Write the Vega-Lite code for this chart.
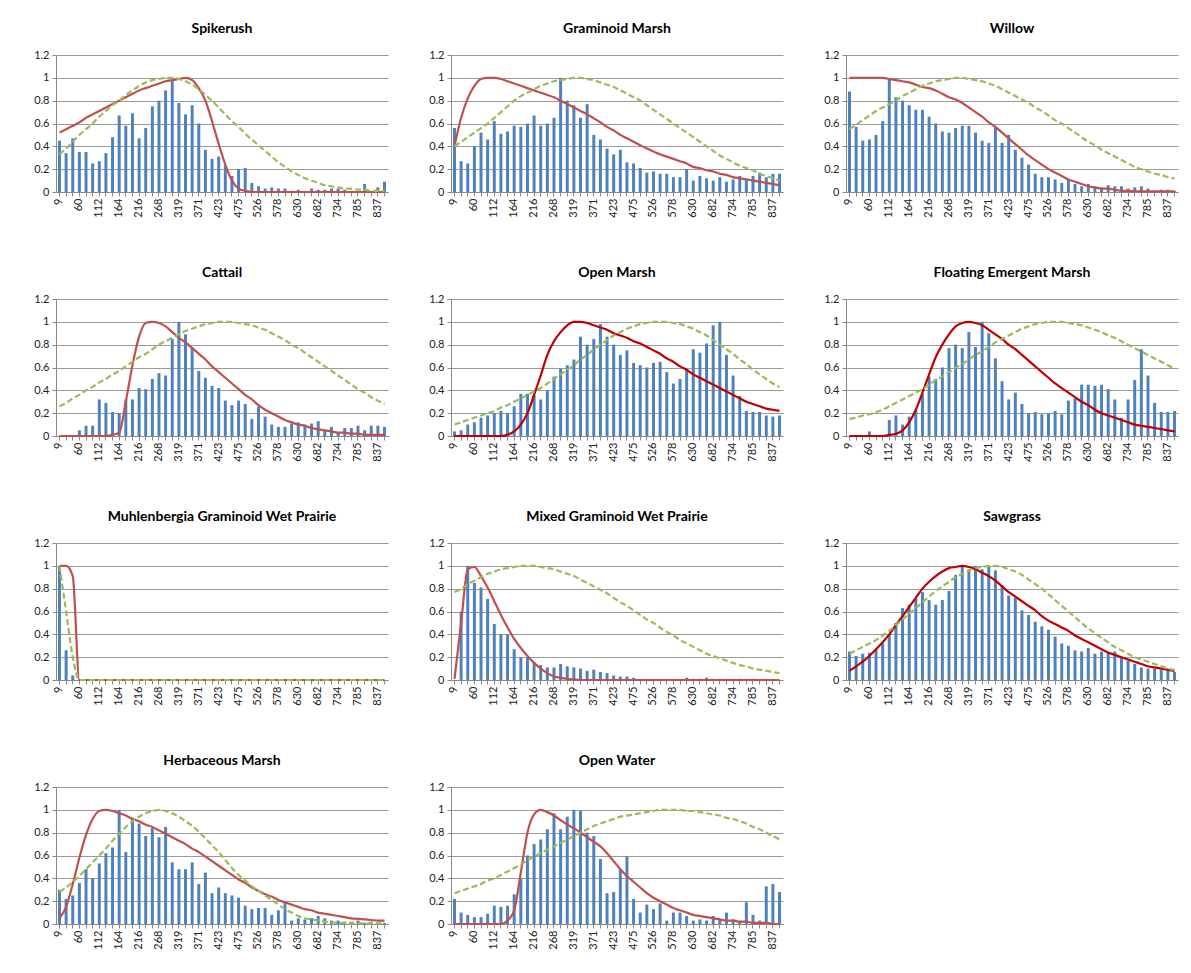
{
"$schema": "https://vega.github.io/schema/vega-lite/v6.json",
"background": "white",
"padding": {"left": 33, "top": 22, "right": 5, "bottom": 5},
"data": {"values": [
{"p":0,"d":9,"b":0.45,"r":0.52,"g":0.33},{"p":0,"d":26,"b":0.34,"r":0.55,"g":0.38},{"p":0,"d":43,"b":0.47,"r":0.58,"g":0.44},{"p":0,"d":60,"b":0.35,"r":0.61,"g":0.50},{"p":0,"d":78,"b":0.35,"r":0.65,"g":0.55},{"p":0,"d":95,"b":0.25,"r":0.68,"g":0.60},{"p":0,"d":112,"b":0.27,"r":0.71,"g":0.66},{"p":0,"d":130,"b":0.34,"r":0.74,"g":0.71},{"p":0,"d":147,"b":0.48,"r":0.77,"g":0.76},{"p":0,"d":164,"b":0.67,"r":0.80,"g":0.80},
{"p":0,"d":181,"b":0.58,"r":0.83,"g":0.85},{"p":0,"d":199,"b":0.69,"r":0.86,"g":0.89},{"p":0,"d":216,"b":0.47,"r":0.89,"g":0.93},{"p":0,"d":233,"b":0.56,"r":0.91,"g":0.96},{"p":0,"d":250,"b":0.75,"r":0.93,"g":0.98},{"p":0,"d":268,"b":0.80,"r":0.95,"g":0.99},{"p":0,"d":285,"b":0.89,"r":0.97,"g":1.0},{"p":0,"d":302,"b":0.98,"r":0.98,"g":1.0},{"p":0,"d":319,"b":0.78,"r":0.99,"g":0.99},{"p":0,"d":337,"b":0.68,"r":1.0,"g":0.97},
{"p":0,"d":354,"b":0.76,"r":0.98,"g":0.94},{"p":0,"d":371,"b":0.60,"r":0.91,"g":0.90},{"p":0,"d":388,"b":0.37,"r":0.80,"g":0.85},{"p":0,"d":406,"b":0.29,"r":0.62,"g":0.80},{"p":0,"d":423,"b":0.31,"r":0.42,"g":0.74},{"p":0,"d":440,"b":0.23,"r":0.24,"g":0.68},{"p":0,"d":457,"b":0.14,"r":0.10,"g":0.62},{"p":0,"d":475,"b":0.20,"r":0.03,"g":0.57},{"p":0,"d":492,"b":0.21,"r":0.01,"g":0.51},{"p":0,"d":509,"b":0.08,"r":0,"g":0.46},
{"p":0,"d":526,"b":0.05,"r":0,"g":0.41},{"p":0,"d":544,"b":0.03,"r":0,"g":0.36},{"p":0,"d":561,"b":0.04,"r":0,"g":0.31},{"p":0,"d":578,"b":0.03,"r":0,"g":0.26},{"p":0,"d":595,"b":0.03,"r":0,"g":0.22},{"p":0,"d":613,"b":0.01,"r":0,"g":0.18},{"p":0,"d":630,"b":0.02,"r":0,"g":0.15},{"p":0,"d":647,"b":0.01,"r":0,"g":0.12},{"p":0,"d":664,"b":0.03,"r":0,"g":0.10},{"p":0,"d":682,"b":0.02,"r":0,"g":0.08},
{"p":0,"d":699,"b":0.02,"r":0,"g":0.06},{"p":0,"d":716,"b":0.03,"r":0,"g":0.05},{"p":0,"d":734,"b":0.03,"r":0,"g":0.04},{"p":0,"d":751,"b":0.02,"r":0,"g":0.03},{"p":0,"d":768,"b":0.01,"r":0,"g":0.03},{"p":0,"d":785,"b":0.01,"r":0,"g":0.02},{"p":0,"d":802,"b":0.07,"r":0,"g":0.02},{"p":0,"d":820,"b":0,"r":0,"g":0.01},{"p":0,"d":837,"b":0.04,"r":0,"g":0.01},{"p":0,"d":854,"b":0.09,"r":0,"g":0.01},

{"p":1,"d":9,"b":0.56,"r":0.40,"g":0.40},{"p":1,"d":26,"b":0.27,"r":0.65,"g":0.44},{"p":1,"d":43,"b":0.25,"r":0.82,"g":0.48},{"p":1,"d":60,"b":0.40,"r":0.93,"g":0.52},{"p":1,"d":78,"b":0.52,"r":0.99,"g":0.56},{"p":1,"d":95,"b":0.46,"r":1.0,"g":0.60},{"p":1,"d":112,"b":0.62,"r":1.0,"g":0.65},{"p":1,"d":130,"b":0.51,"r":0.99,"g":0.70},{"p":1,"d":147,"b":0.53,"r":0.97,"g":0.75},{"p":1,"d":164,"b":0.58,"r":0.95,"g":0.80},
{"p":1,"d":181,"b":0.57,"r":0.93,"g":0.84},{"p":1,"d":199,"b":0.60,"r":0.91,"g":0.87},{"p":1,"d":216,"b":0.67,"r":0.89,"g":0.90},{"p":1,"d":233,"b":0.58,"r":0.87,"g":0.93},{"p":1,"d":250,"b":0.60,"r":0.85,"g":0.95},{"p":1,"d":268,"b":0.65,"r":0.83,"g":0.97},{"p":1,"d":285,"b":1.0,"r":0.80,"g":0.98},{"p":1,"d":302,"b":0.80,"r":0.77,"g":0.99},{"p":1,"d":319,"b":0.76,"r":0.74,"g":1.0},{"p":1,"d":337,"b":0.65,"r":0.71,"g":1.0},
{"p":1,"d":354,"b":0.77,"r":0.68,"g":0.99},{"p":1,"d":371,"b":0.50,"r":0.645,"g":0.98},{"p":1,"d":388,"b":0.46,"r":0.61,"g":0.96},{"p":1,"d":406,"b":0.38,"r":0.57,"g":0.94},{"p":1,"d":423,"b":0.33,"r":0.54,"g":0.92},{"p":1,"d":440,"b":0.37,"r":0.50,"g":0.89},{"p":1,"d":457,"b":0.26,"r":0.47,"g":0.86},{"p":1,"d":475,"b":0.25,"r":0.44,"g":0.83},{"p":1,"d":492,"b":0.21,"r":0.41,"g":0.80},{"p":1,"d":509,"b":0.17,"r":0.38,"g":0.76},
{"p":1,"d":526,"b":0.18,"r":0.355,"g":0.72},{"p":1,"d":544,"b":0.16,"r":0.33,"g":0.68},{"p":1,"d":561,"b":0.16,"r":0.31,"g":0.64},{"p":1,"d":578,"b":0.13,"r":0.29,"g":0.60},{"p":1,"d":595,"b":0.13,"r":0.27,"g":0.56},{"p":1,"d":613,"b":0.20,"r":0.25,"g":0.52},{"p":1,"d":630,"b":0.10,"r":0.22,"g":0.48},{"p":1,"d":647,"b":0.14,"r":0.21,"g":0.44},{"p":1,"d":664,"b":0.12,"r":0.19,"g":0.40},{"p":1,"d":682,"b":0.10,"r":0.18,"g":0.36},
{"p":1,"d":699,"b":0.13,"r":0.16,"g":0.32},{"p":1,"d":716,"b":0.09,"r":0.15,"g":0.29},{"p":1,"d":734,"b":0.11,"r":0.13,"g":0.26},{"p":1,"d":751,"b":0.14,"r":0.12,"g":0.23},{"p":1,"d":768,"b":0.11,"r":0.11,"g":0.21},{"p":1,"d":785,"b":0.14,"r":0.10,"g":0.19},{"p":1,"d":802,"b":0.17,"r":0.09,"g":0.16},{"p":1,"d":820,"b":0.13,"r":0.08,"g":0.14},{"p":1,"d":837,"b":0.16,"r":0.07,"g":0.12},{"p":1,"d":854,"b":0.16,"r":0.06,"g":0.10},

{"p":2,"d":9,"b":0.88,"r":1.0,"g":0.55},{"p":2,"d":26,"b":0.57,"r":1.0,"g":0.59},{"p":2,"d":43,"b":0.45,"r":1.0,"g":0.63},{"p":2,"d":60,"b":0.46,"r":1.0,"g":0.67},{"p":2,"d":78,"b":0.50,"r":1.0,"g":0.71},{"p":2,"d":95,"b":0.62,"r":1.0,"g":0.74},{"p":2,"d":112,"b":0.99,"r":0.99,"g":0.77},{"p":2,"d":130,"b":0.83,"r":0.98,"g":0.80},{"p":2,"d":147,"b":0.80,"r":0.97,"g":0.84},{"p":2,"d":164,"b":0.76,"r":0.96,"g":0.87},
{"p":2,"d":181,"b":0.72,"r":0.94,"g":0.90},{"p":2,"d":199,"b":0.72,"r":0.92,"g":0.93},{"p":2,"d":216,"b":0.66,"r":0.91,"g":0.95},{"p":2,"d":233,"b":0.60,"r":0.89,"g":0.97},{"p":2,"d":250,"b":0.53,"r":0.86,"g":0.98},{"p":2,"d":268,"b":0.52,"r":0.83,"g":0.99},{"p":2,"d":285,"b":0.56,"r":0.81,"g":1.0},{"p":2,"d":302,"b":0.58,"r":0.78,"g":1.0},{"p":2,"d":319,"b":0.58,"r":0.74,"g":0.99},{"p":2,"d":337,"b":0.52,"r":0.70,"g":0.98},
{"p":2,"d":354,"b":0.45,"r":0.66,"g":0.97},{"p":2,"d":371,"b":0.43,"r":0.61,"g":0.95},{"p":2,"d":388,"b":0.57,"r":0.57,"g":0.93},{"p":2,"d":406,"b":0.43,"r":0.52,"g":0.90},{"p":2,"d":423,"b":0.50,"r":0.47,"g":0.87},{"p":2,"d":440,"b":0.37,"r":0.42,"g":0.84},{"p":2,"d":457,"b":0.30,"r":0.37,"g":0.81},{"p":2,"d":475,"b":0.24,"r":0.32,"g":0.78},{"p":2,"d":492,"b":0.16,"r":0.28,"g":0.74},{"p":2,"d":509,"b":0.13,"r":0.24,"g":0.71},
{"p":2,"d":526,"b":0.13,"r":0.20,"g":0.67},{"p":2,"d":544,"b":0.11,"r":0.17,"g":0.63},{"p":2,"d":561,"b":0.08,"r":0.14,"g":0.60},{"p":2,"d":578,"b":0.11,"r":0.11,"g":0.56},{"p":2,"d":595,"b":0.07,"r":0.09,"g":0.52},{"p":2,"d":613,"b":0.05,"r":0.07,"g":0.48},{"p":2,"d":630,"b":0.07,"r":0.05,"g":0.44},{"p":2,"d":647,"b":0.05,"r":0.04,"g":0.41},{"p":2,"d":664,"b":0.04,"r":0.03,"g":0.37},{"p":2,"d":682,"b":0.06,"r":0.03,"g":0.34},
{"p":2,"d":699,"b":0.05,"r":0.02,"g":0.31},{"p":2,"d":716,"b":0.05,"r":0.01,"g":0.28},{"p":2,"d":734,"b":0.03,"r":0.01,"g":0.25},{"p":2,"d":751,"b":0.04,"r":0.005,"g":0.22},{"p":2,"d":768,"b":0.05,"r":0.005,"g":0.20},{"p":2,"d":785,"b":0.03,"r":0.005,"g":0.18},{"p":2,"d":802,"b":0.01,"r":0.005,"g":0.16},{"p":2,"d":820,"b":0.02,"r":0.005,"g":0.15},{"p":2,"d":837,"b":0.02,"r":0.005,"g":0.13},{"p":2,"d":854,"b":0.01,"r":0.005,"g":0.12},

{"p":3,"d":9,"b":0,"r":0,"g":0.26},{"p":3,"d":26,"b":0,"r":0,"g":0.29},{"p":3,"d":43,"b":0,"r":0,"g":0.33},{"p":3,"d":60,"b":0.05,"r":0,"g":0.36},{"p":3,"d":78,"b":0.09,"r":0,"g":0.40},{"p":3,"d":95,"b":0.09,"r":0,"g":0.43},{"p":3,"d":112,"b":0.32,"r":0,"g":0.47},{"p":3,"d":130,"b":0.29,"r":0,"g":0.50},{"p":3,"d":147,"b":0.21,"r":0.01,"g":0.54},{"p":3,"d":164,"b":0.20,"r":0.03,"g":0.57},
{"p":3,"d":181,"b":0.32,"r":0.30,"g":0.61},{"p":3,"d":199,"b":0.32,"r":0.62,"g":0.65},{"p":3,"d":216,"b":0.42,"r":0.87,"g":0.69},{"p":3,"d":233,"b":0.41,"r":0.99,"g":0.72},{"p":3,"d":250,"b":0.50,"r":1.0,"g":0.76},{"p":3,"d":268,"b":0.55,"r":0.99,"g":0.80},{"p":3,"d":285,"b":0.53,"r":0.96,"g":0.83},{"p":3,"d":302,"b":0.85,"r":0.91,"g":0.86},{"p":3,"d":319,"b":1.0,"r":0.86,"g":0.89},{"p":3,"d":337,"b":0.89,"r":0.82,"g":0.92},
{"p":3,"d":354,"b":0.78,"r":0.77,"g":0.94},{"p":3,"d":371,"b":0.57,"r":0.72,"g":0.96},{"p":3,"d":388,"b":0.51,"r":0.67,"g":0.98},{"p":3,"d":406,"b":0.44,"r":0.61,"g":0.99},{"p":3,"d":423,"b":0.42,"r":0.56,"g":1.0},{"p":3,"d":440,"b":0.31,"r":0.51,"g":1.0},{"p":3,"d":457,"b":0.27,"r":0.46,"g":1.0},{"p":3,"d":475,"b":0.31,"r":0.41,"g":0.99},{"p":3,"d":492,"b":0.28,"r":0.36,"g":0.98},{"p":3,"d":509,"b":0.15,"r":0.32,"g":0.97},
{"p":3,"d":526,"b":0.26,"r":0.27,"g":0.95},{"p":3,"d":544,"b":0.17,"r":0.23,"g":0.93},{"p":3,"d":561,"b":0.10,"r":0.20,"g":0.90},{"p":3,"d":578,"b":0.08,"r":0.17,"g":0.87},{"p":3,"d":595,"b":0.08,"r":0.14,"g":0.84},{"p":3,"d":613,"b":0.11,"r":0.12,"g":0.80},{"p":3,"d":630,"b":0.12,"r":0.10,"g":0.77},{"p":3,"d":647,"b":0.10,"r":0.09,"g":0.73},{"p":3,"d":664,"b":0.11,"r":0.07,"g":0.69},{"p":3,"d":682,"b":0.13,"r":0.06,"g":0.65},
{"p":3,"d":699,"b":0.05,"r":0.05,"g":0.61},{"p":3,"d":716,"b":0.08,"r":0.04,"g":0.57},{"p":3,"d":734,"b":0.03,"r":0.03,"g":0.53},{"p":3,"d":751,"b":0.07,"r":0.03,"g":0.49},{"p":3,"d":768,"b":0.07,"r":0.02,"g":0.45},{"p":3,"d":785,"b":0.09,"r":0.02,"g":0.41},{"p":3,"d":802,"b":0.05,"r":0.01,"g":0.38},{"p":3,"d":820,"b":0.09,"r":0.01,"g":0.34},{"p":3,"d":837,"b":0.09,"r":0.01,"g":0.31},{"p":3,"d":854,"b":0.08,"r":0.01,"g":0.28},

{"p":4,"d":9,"b":0.04,"r":0,"g":0.10},{"p":4,"d":26,"b":0.05,"r":0,"g":0.12},{"p":4,"d":43,"b":0.10,"r":0,"g":0.14},{"p":4,"d":60,"b":0.12,"r":0,"g":0.16},{"p":4,"d":78,"b":0.16,"r":0,"g":0.18},{"p":4,"d":95,"b":0.18,"r":0,"g":0.20},{"p":4,"d":112,"b":0.20,"r":0,"g":0.22},{"p":4,"d":130,"b":0.22,"r":0,"g":0.25},{"p":4,"d":147,"b":0.20,"r":0.01,"g":0.27},{"p":4,"d":164,"b":0.26,"r":0.04,"g":0.30},
{"p":4,"d":181,"b":0.37,"r":0.10,"g":0.33},{"p":4,"d":199,"b":0.37,"r":0.20,"g":0.36},{"p":4,"d":216,"b":0.36,"r":0.36,"g":0.39},{"p":4,"d":233,"b":0.32,"r":0.53,"g":0.42},{"p":4,"d":250,"b":0.40,"r":0.71,"g":0.46},{"p":4,"d":268,"b":0.52,"r":0.83,"g":0.50},{"p":4,"d":285,"b":0.59,"r":0.91,"g":0.54},{"p":4,"d":302,"b":0.62,"r":0.97,"g":0.58},{"p":4,"d":319,"b":0.67,"r":1.0,"g":0.62},{"p":4,"d":337,"b":0.87,"r":1.0,"g":0.67},
{"p":4,"d":354,"b":0.80,"r":0.99,"g":0.71},{"p":4,"d":371,"b":0.85,"r":0.97,"g":0.76},{"p":4,"d":388,"b":0.98,"r":0.95,"g":0.80},{"p":4,"d":406,"b":0.87,"r":0.93,"g":0.84},{"p":4,"d":423,"b":0.80,"r":0.90,"g":0.88},{"p":4,"d":440,"b":0.71,"r":0.88,"g":0.91},{"p":4,"d":457,"b":0.75,"r":0.86,"g":0.94},{"p":4,"d":475,"b":0.64,"r":0.83,"g":0.96},{"p":4,"d":492,"b":0.62,"r":0.81,"g":0.98},{"p":4,"d":509,"b":0.60,"r":0.78,"g":0.99},
{"p":4,"d":526,"b":0.64,"r":0.75,"g":1.0},{"p":4,"d":544,"b":0.65,"r":0.72,"g":1.0},{"p":4,"d":561,"b":0.56,"r":0.68,"g":1.0},{"p":4,"d":578,"b":0.46,"r":0.65,"g":0.99},{"p":4,"d":595,"b":0.50,"r":0.61,"g":0.98},{"p":4,"d":613,"b":0.58,"r":0.58,"g":0.96},{"p":4,"d":630,"b":0.76,"r":0.54,"g":0.94},{"p":4,"d":647,"b":0.73,"r":0.51,"g":0.91},{"p":4,"d":664,"b":0.81,"r":0.48,"g":0.88},{"p":4,"d":682,"b":0.97,"r":0.45,"g":0.84},
{"p":4,"d":699,"b":1.0,"r":0.42,"g":0.80},{"p":4,"d":716,"b":0.71,"r":0.39,"g":0.76},{"p":4,"d":734,"b":0.53,"r":0.36,"g":0.72},{"p":4,"d":751,"b":0.35,"r":0.33,"g":0.67},{"p":4,"d":768,"b":0.22,"r":0.30,"g":0.63},{"p":4,"d":785,"b":0.21,"r":0.28,"g":0.58},{"p":4,"d":802,"b":0.21,"r":0.26,"g":0.54},{"p":4,"d":820,"b":0.18,"r":0.24,"g":0.50},{"p":4,"d":837,"b":0.17,"r":0.23,"g":0.46},{"p":4,"d":854,"b":0.18,"r":0.22,"g":0.43},

{"p":5,"d":9,"b":0,"r":0,"g":0.15},{"p":5,"d":26,"b":0,"r":0,"g":0.16},{"p":5,"d":43,"b":0,"r":0,"g":0.18},{"p":5,"d":60,"b":0.04,"r":0,"g":0.19},{"p":5,"d":78,"b":0.01,"r":0,"g":0.21},{"p":5,"d":95,"b":0,"r":0,"g":0.23},{"p":5,"d":112,"b":0.14,"r":0.01,"g":0.26},{"p":5,"d":130,"b":0.18,"r":0.02,"g":0.29},{"p":5,"d":147,"b":0.10,"r":0.05,"g":0.32},{"p":5,"d":164,"b":0.17,"r":0.12,"g":0.35},
{"p":5,"d":181,"b":0.23,"r":0.23,"g":0.38},{"p":5,"d":199,"b":0.37,"r":0.38,"g":0.41},{"p":5,"d":216,"b":0.52,"r":0.54,"g":0.45},{"p":5,"d":233,"b":0.50,"r":0.69,"g":0.49},{"p":5,"d":250,"b":0.60,"r":0.80,"g":0.52},{"p":5,"d":268,"b":0.77,"r":0.89,"g":0.56},{"p":5,"d":285,"b":0.80,"r":0.96,"g":0.60},{"p":5,"d":302,"b":0.77,"r":0.99,"g":0.63},{"p":5,"d":319,"b":0.91,"r":1.0,"g":0.67},{"p":5,"d":337,"b":0.78,"r":0.99,"g":0.71},
{"p":5,"d":354,"b":1.0,"r":0.97,"g":0.74},{"p":5,"d":371,"b":0.90,"r":0.93,"g":0.78},{"p":5,"d":388,"b":0.68,"r":0.89,"g":0.82},{"p":5,"d":406,"b":0.48,"r":0.85,"g":0.85},{"p":5,"d":423,"b":0.32,"r":0.80,"g":0.88},{"p":5,"d":440,"b":0.38,"r":0.76,"g":0.91},{"p":5,"d":457,"b":0.28,"r":0.71,"g":0.94},{"p":5,"d":475,"b":0.20,"r":0.66,"g":0.96},{"p":5,"d":492,"b":0.21,"r":0.61,"g":0.98},{"p":5,"d":509,"b":0.19,"r":0.56,"g":0.99},
{"p":5,"d":526,"b":0.20,"r":0.51,"g":1.0},{"p":5,"d":544,"b":0.22,"r":0.46,"g":1.0},{"p":5,"d":561,"b":0.19,"r":0.42,"g":1.0},{"p":5,"d":578,"b":0.31,"r":0.38,"g":0.99},{"p":5,"d":595,"b":0.33,"r":0.34,"g":0.98},{"p":5,"d":613,"b":0.45,"r":0.30,"g":0.97},{"p":5,"d":630,"b":0.45,"r":0.27,"g":0.95},{"p":5,"d":647,"b":0.44,"r":0.23,"g":0.93},{"p":5,"d":664,"b":0.45,"r":0.20,"g":0.91},{"p":5,"d":682,"b":0.41,"r":0.18,"g":0.88},
{"p":5,"d":699,"b":0.32,"r":0.16,"g":0.86},{"p":5,"d":716,"b":0.16,"r":0.14,"g":0.83},{"p":5,"d":734,"b":0.32,"r":0.12,"g":0.80},{"p":5,"d":751,"b":0.49,"r":0.10,"g":0.77},{"p":5,"d":768,"b":0.76,"r":0.09,"g":0.74},{"p":5,"d":785,"b":0.53,"r":0.08,"g":0.71},{"p":5,"d":802,"b":0.29,"r":0.07,"g":0.68},{"p":5,"d":820,"b":0.21,"r":0.06,"g":0.65},{"p":5,"d":837,"b":0.21,"r":0.05,"g":0.62},{"p":5,"d":854,"b":0.22,"r":0.04,"g":0.59},

{"p":6,"d":9,"b":1.0,"r":1.0,"g":1.0},{"p":6,"d":26,"b":0.26,"r":1.0,"g":0.6},{"p":6,"d":43,"b":0.04,"r":0.91,"g":0.2},{"p":6,"d":60,"b":0,"r":0,"g":0},{"p":6,"d":78,"b":0,"r":0,"g":0},{"p":6,"d":95,"b":0,"r":0,"g":0},{"p":6,"d":112,"b":0,"r":0,"g":0},{"p":6,"d":130,"b":0,"r":0,"g":0},{"p":6,"d":147,"b":0,"r":0,"g":0},{"p":6,"d":164,"b":0,"r":0,"g":0},
{"p":6,"d":181,"b":0,"r":0,"g":0},{"p":6,"d":199,"b":0,"r":0,"g":0},{"p":6,"d":216,"b":0,"r":0,"g":0},{"p":6,"d":233,"b":0,"r":0,"g":0},{"p":6,"d":250,"b":0,"r":0,"g":0},{"p":6,"d":268,"b":0,"r":0,"g":0},{"p":6,"d":285,"b":0,"r":0,"g":0},{"p":6,"d":302,"b":0,"r":0,"g":0},{"p":6,"d":319,"b":0,"r":0,"g":0},{"p":6,"d":337,"b":0,"r":0,"g":0},
{"p":6,"d":354,"b":0,"r":0,"g":0},{"p":6,"d":371,"b":0,"r":0,"g":0},{"p":6,"d":388,"b":0,"r":0,"g":0},{"p":6,"d":406,"b":0,"r":0,"g":0},{"p":6,"d":423,"b":0,"r":0,"g":0},{"p":6,"d":440,"b":0,"r":0,"g":0},{"p":6,"d":457,"b":0,"r":0,"g":0},{"p":6,"d":475,"b":0,"r":0,"g":0},{"p":6,"d":492,"b":0,"r":0,"g":0},{"p":6,"d":509,"b":0,"r":0,"g":0},
{"p":6,"d":526,"b":0,"r":0,"g":0},{"p":6,"d":544,"b":0,"r":0,"g":0},{"p":6,"d":561,"b":0,"r":0,"g":0},{"p":6,"d":578,"b":0,"r":0,"g":0},{"p":6,"d":595,"b":0,"r":0,"g":0},{"p":6,"d":613,"b":0,"r":0,"g":0},{"p":6,"d":630,"b":0,"r":0,"g":0},{"p":6,"d":647,"b":0,"r":0,"g":0},{"p":6,"d":664,"b":0,"r":0,"g":0},{"p":6,"d":682,"b":0,"r":0,"g":0},
{"p":6,"d":699,"b":0,"r":0,"g":0},{"p":6,"d":716,"b":0,"r":0,"g":0},{"p":6,"d":734,"b":0,"r":0,"g":0},{"p":6,"d":751,"b":0,"r":0,"g":0},{"p":6,"d":768,"b":0,"r":0,"g":0},{"p":6,"d":785,"b":0,"r":0,"g":0},{"p":6,"d":802,"b":0,"r":0,"g":0},{"p":6,"d":820,"b":0,"r":0,"g":0},{"p":6,"d":837,"b":0,"r":0,"g":0},{"p":6,"d":854,"b":0,"r":0,"g":0},

{"p":7,"d":9,"b":0,"r":0.01,"g":0.77},{"p":7,"d":26,"b":0.60,"r":0.50,"g":0.80},{"p":7,"d":43,"b":1.0,"r":0.97,"g":0.84},{"p":7,"d":60,"b":0.85,"r":0.99,"g":0.87},{"p":7,"d":78,"b":0.81,"r":0.91,"g":0.90},{"p":7,"d":95,"b":0.71,"r":0.81,"g":0.93},{"p":7,"d":112,"b":0.49,"r":0.69,"g":0.95},{"p":7,"d":130,"b":0.40,"r":0.57,"g":0.97},{"p":7,"d":147,"b":0.40,"r":0.46,"g":0.98},{"p":7,"d":164,"b":0.27,"r":0.36,"g":0.99},
{"p":7,"d":181,"b":0.20,"r":0.28,"g":1.0},{"p":7,"d":199,"b":0.20,"r":0.21,"g":1.0},{"p":7,"d":216,"b":0.15,"r":0.15,"g":1.0},{"p":7,"d":233,"b":0.13,"r":0.10,"g":0.99},{"p":7,"d":250,"b":0.11,"r":0.06,"g":0.98},{"p":7,"d":268,"b":0.11,"r":0.03,"g":0.97},{"p":7,"d":285,"b":0.14,"r":0.02,"g":0.95},{"p":7,"d":302,"b":0.12,"r":0.01,"g":0.93},{"p":7,"d":319,"b":0.11,"r":0.005,"g":0.91},{"p":7,"d":337,"b":0.10,"r":0,"g":0.88},
{"p":7,"d":354,"b":0.08,"r":0,"g":0.85},{"p":7,"d":371,"b":0.09,"r":0,"g":0.82},{"p":7,"d":388,"b":0.07,"r":0,"g":0.79},{"p":7,"d":406,"b":0.06,"r":0,"g":0.76},{"p":7,"d":423,"b":0.04,"r":0,"g":0.72},{"p":7,"d":440,"b":0.03,"r":0,"g":0.68},{"p":7,"d":457,"b":0.03,"r":0,"g":0.65},{"p":7,"d":475,"b":0.02,"r":0,"g":0.61},{"p":7,"d":492,"b":0.01,"r":0,"g":0.57},{"p":7,"d":509,"b":0,"r":0,"g":0.53},
{"p":7,"d":526,"b":0,"r":0,"g":0.50},{"p":7,"d":544,"b":0,"r":0,"g":0.46},{"p":7,"d":561,"b":0,"r":0,"g":0.42},{"p":7,"d":578,"b":0,"r":0,"g":0.39},{"p":7,"d":595,"b":0.01,"r":0,"g":0.35},{"p":7,"d":613,"b":0.02,"r":0,"g":0.32},{"p":7,"d":630,"b":0.01,"r":0,"g":0.29},{"p":7,"d":647,"b":0.01,"r":0,"g":0.26},{"p":7,"d":664,"b":0.02,"r":0,"g":0.23},{"p":7,"d":682,"b":0.01,"r":0,"g":0.21},
{"p":7,"d":699,"b":0.01,"r":0,"g":0.19},{"p":7,"d":716,"b":0.01,"r":0,"g":0.17},{"p":7,"d":734,"b":0.01,"r":0,"g":0.15},{"p":7,"d":751,"b":0.01,"r":0,"g":0.13},{"p":7,"d":768,"b":0.01,"r":0,"g":0.12},{"p":7,"d":785,"b":0.01,"r":0,"g":0.10},{"p":7,"d":802,"b":0,"r":0,"g":0.09},{"p":7,"d":820,"b":0,"r":0,"g":0.08},{"p":7,"d":837,"b":0,"r":0,"g":0.07},{"p":7,"d":854,"b":0,"r":0,"g":0.06},

{"p":8,"d":9,"b":0.25,"r":0.08,"g":0.23},{"p":8,"d":26,"b":0.21,"r":0.12,"g":0.26},{"p":8,"d":43,"b":0.23,"r":0.16,"g":0.29},{"p":8,"d":60,"b":0.24,"r":0.21,"g":0.32},{"p":8,"d":78,"b":0.27,"r":0.27,"g":0.35},{"p":8,"d":95,"b":0.32,"r":0.33,"g":0.39},{"p":8,"d":112,"b":0.40,"r":0.40,"g":0.43},{"p":8,"d":130,"b":0.50,"r":0.48,"g":0.48},{"p":8,"d":147,"b":0.63,"r":0.56,"g":0.53},{"p":8,"d":164,"b":0.66,"r":0.64,"g":0.58},
{"p":8,"d":181,"b":0.71,"r":0.72,"g":0.63},{"p":8,"d":199,"b":0.77,"r":0.80,"g":0.68},{"p":8,"d":216,"b":0.70,"r":0.86,"g":0.73},{"p":8,"d":233,"b":0.66,"r":0.91,"g":0.78},{"p":8,"d":250,"b":0.70,"r":0.95,"g":0.82},{"p":8,"d":268,"b":0.78,"r":0.98,"g":0.86},{"p":8,"d":285,"b":0.92,"r":0.99,"g":0.90},{"p":8,"d":302,"b":0.99,"r":1.0,"g":0.93},{"p":8,"d":319,"b":0.97,"r":0.99,"g":0.96},{"p":8,"d":337,"b":1.0,"r":0.97,"g":0.98},
{"p":8,"d":354,"b":0.97,"r":0.94,"g":0.99},{"p":8,"d":371,"b":0.99,"r":0.91,"g":1.0},{"p":8,"d":388,"b":0.96,"r":0.87,"g":1.0},{"p":8,"d":406,"b":0.83,"r":0.82,"g":0.99},{"p":8,"d":423,"b":0.74,"r":0.77,"g":0.97},{"p":8,"d":440,"b":0.72,"r":0.73,"g":0.95},{"p":8,"d":457,"b":0.61,"r":0.69,"g":0.92},{"p":8,"d":475,"b":0.57,"r":0.65,"g":0.88},{"p":8,"d":492,"b":0.51,"r":0.61,"g":0.84},{"p":8,"d":509,"b":0.47,"r":0.56,"g":0.80},
{"p":8,"d":526,"b":0.44,"r":0.52,"g":0.75},{"p":8,"d":544,"b":0.38,"r":0.49,"g":0.70},{"p":8,"d":561,"b":0.32,"r":0.46,"g":0.65},{"p":8,"d":578,"b":0.30,"r":0.43,"g":0.60},{"p":8,"d":595,"b":0.26,"r":0.39,"g":0.55},{"p":8,"d":613,"b":0.25,"r":0.36,"g":0.50},{"p":8,"d":630,"b":0.28,"r":0.33,"g":0.45},{"p":8,"d":647,"b":0.23,"r":0.30,"g":0.41},{"p":8,"d":664,"b":0.25,"r":0.27,"g":0.37},{"p":8,"d":682,"b":0.24,"r":0.24,"g":0.33},
{"p":8,"d":699,"b":0.25,"r":0.22,"g":0.29},{"p":8,"d":716,"b":0.20,"r":0.20,"g":0.26},{"p":8,"d":734,"b":0.17,"r":0.18,"g":0.23},{"p":8,"d":751,"b":0.14,"r":0.16,"g":0.20},{"p":8,"d":768,"b":0.11,"r":0.14,"g":0.18},{"p":8,"d":785,"b":0.10,"r":0.12,"g":0.16},{"p":8,"d":802,"b":0.10,"r":0.11,"g":0.14},{"p":8,"d":820,"b":0.09,"r":0.10,"g":0.12},{"p":8,"d":837,"b":0.09,"r":0.09,"g":0.10},{"p":8,"d":854,"b":0.07,"r":0.08,"g":0.09},

{"p":9,"d":9,"b":0.30,"r":0.05,"g":0.28},{"p":9,"d":26,"b":0.22,"r":0.15,"g":0.32},{"p":9,"d":43,"b":0.25,"r":0.35,"g":0.37},{"p":9,"d":60,"b":0.36,"r":0.58,"g":0.42},{"p":9,"d":78,"b":0.48,"r":0.78,"g":0.48},{"p":9,"d":95,"b":0.40,"r":0.92,"g":0.54},{"p":9,"d":112,"b":0.53,"r":0.99,"g":0.60},{"p":9,"d":130,"b":0.62,"r":1.0,"g":0.66},{"p":9,"d":147,"b":0.67,"r":0.99,"g":0.73},{"p":9,"d":164,"b":1.0,"r":0.97,"g":0.79},
{"p":9,"d":181,"b":0.63,"r":0.95,"g":0.85},{"p":9,"d":199,"b":0.93,"r":0.92,"g":0.90},{"p":9,"d":216,"b":0.88,"r":0.90,"g":0.94},{"p":9,"d":233,"b":0.77,"r":0.87,"g":0.97},{"p":9,"d":250,"b":0.84,"r":0.85,"g":0.99},{"p":9,"d":268,"b":0.76,"r":0.82,"g":1.0},{"p":9,"d":285,"b":0.85,"r":0.79,"g":0.99},{"p":9,"d":302,"b":0.54,"r":0.76,"g":0.97},{"p":9,"d":319,"b":0.48,"r":0.73,"g":0.94},{"p":9,"d":337,"b":0.48,"r":0.70,"g":0.90},
{"p":9,"d":354,"b":0.54,"r":0.66,"g":0.86},{"p":9,"d":371,"b":0.35,"r":0.63,"g":0.81},{"p":9,"d":388,"b":0.45,"r":0.59,"g":0.75},{"p":9,"d":406,"b":0.27,"r":0.55,"g":0.69},{"p":9,"d":423,"b":0.32,"r":0.51,"g":0.63},{"p":9,"d":440,"b":0.27,"r":0.47,"g":0.56},{"p":9,"d":457,"b":0.25,"r":0.43,"g":0.49},{"p":9,"d":475,"b":0.23,"r":0.39,"g":0.43},{"p":9,"d":492,"b":0.16,"r":0.36,"g":0.38},{"p":9,"d":509,"b":0.13,"r":0.32,"g":0.33},
{"p":9,"d":526,"b":0.14,"r":0.29,"g":0.29},{"p":9,"d":544,"b":0.14,"r":0.26,"g":0.25},{"p":9,"d":561,"b":0.08,"r":0.24,"g":0.21},{"p":9,"d":578,"b":0.12,"r":0.21,"g":0.17},{"p":9,"d":595,"b":0.20,"r":0.19,"g":0.13},{"p":9,"d":613,"b":0.03,"r":0.17,"g":0.10},{"p":9,"d":630,"b":0.05,"r":0.15,"g":0.07},{"p":9,"d":647,"b":0.04,"r":0.13,"g":0.05},{"p":9,"d":664,"b":0.05,"r":0.12,"g":0.04},{"p":9,"d":682,"b":0.07,"r":0.10,"g":0.03},
{"p":9,"d":699,"b":0.05,"r":0.09,"g":0.02},{"p":9,"d":716,"b":0.03,"r":0.08,"g":0.015},{"p":9,"d":734,"b":0.03,"r":0.07,"g":0.01},{"p":9,"d":751,"b":0.02,"r":0.06,"g":0.01},{"p":9,"d":768,"b":0.02,"r":0.05,"g":0.005},{"p":9,"d":785,"b":0.03,"r":0.045,"g":0.005},{"p":9,"d":802,"b":0.01,"r":0.04,"g":0.005},{"p":9,"d":820,"b":0.02,"r":0.035,"g":0.005},{"p":9,"d":837,"b":0.01,"r":0.03,"g":0.005},{"p":9,"d":854,"b":0.01,"r":0.03,"g":0.005},

{"p":10,"d":9,"b":0.22,"r":0,"g":0.27},{"p":10,"d":26,"b":0.10,"r":0,"g":0.29},{"p":10,"d":43,"b":0.08,"r":0,"g":0.31},{"p":10,"d":60,"b":0.06,"r":0,"g":0.33},{"p":10,"d":78,"b":0.06,"r":0,"g":0.35},{"p":10,"d":95,"b":0.09,"r":0,"g":0.38},{"p":10,"d":112,"b":0.16,"r":0,"g":0.40},{"p":10,"d":130,"b":0.15,"r":0,"g":0.43},{"p":10,"d":147,"b":0.16,"r":0.03,"g":0.46},{"p":10,"d":164,"b":0.26,"r":0.12,"g":0.49},
{"p":10,"d":181,"b":0.40,"r":0.45,"g":0.52},{"p":10,"d":199,"b":0.60,"r":0.80,"g":0.56},{"p":10,"d":216,"b":0.70,"r":0.96,"g":0.59},{"p":10,"d":233,"b":0.74,"r":1.0,"g":0.62},{"p":10,"d":250,"b":0.83,"r":0.98,"g":0.65},{"p":10,"d":268,"b":0.97,"r":0.95,"g":0.68},{"p":10,"d":285,"b":0.83,"r":0.91,"g":0.71},{"p":10,"d":302,"b":0.94,"r":0.87,"g":0.74},{"p":10,"d":319,"b":1.0,"r":0.84,"g":0.77},{"p":10,"d":337,"b":0.99,"r":0.80,"g":0.80},
{"p":10,"d":354,"b":0.80,"r":0.76,"g":0.83},{"p":10,"d":371,"b":0.77,"r":0.72,"g":0.86},{"p":10,"d":388,"b":0.57,"r":0.68,"g":0.88},{"p":10,"d":406,"b":0.27,"r":0.62,"g":0.90},{"p":10,"d":423,"b":0.28,"r":0.55,"g":0.92},{"p":10,"d":440,"b":0.48,"r":0.48,"g":0.94},{"p":10,"d":457,"b":0.59,"r":0.42,"g":0.95},{"p":10,"d":475,"b":0.22,"r":0.37,"g":0.96},{"p":10,"d":492,"b":0.10,"r":0.32,"g":0.97},{"p":10,"d":509,"b":0.17,"r":0.27,"g":0.98},
{"p":10,"d":526,"b":0.13,"r":0.23,"g":0.99},{"p":10,"d":544,"b":0.18,"r":0.20,"g":1.0},{"p":10,"d":561,"b":0.03,"r":0.17,"g":1.0},{"p":10,"d":578,"b":0.10,"r":0.14,"g":1.0},{"p":10,"d":595,"b":0.10,"r":0.12,"g":1.0},{"p":10,"d":613,"b":0.07,"r":0.10,"g":0.99},{"p":10,"d":630,"b":0.03,"r":0.08,"g":0.99},{"p":10,"d":647,"b":0.04,"r":0.07,"g":0.98},{"p":10,"d":664,"b":0.03,"r":0.06,"g":0.97},{"p":10,"d":682,"b":0.07,"r":0.05,"g":0.96},
{"p":10,"d":699,"b":0.04,"r":0.04,"g":0.95},{"p":10,"d":716,"b":0.10,"r":0.03,"g":0.93},{"p":10,"d":734,"b":0.04,"r":0.03,"g":0.92},{"p":10,"d":751,"b":0.02,"r":0.02,"g":0.90},{"p":10,"d":768,"b":0.19,"r":0.02,"g":0.88},{"p":10,"d":785,"b":0.08,"r":0.01,"g":0.85},{"p":10,"d":802,"b":0.03,"r":0.01,"g":0.83},{"p":10,"d":820,"b":0.33,"r":0.01,"g":0.80},{"p":10,"d":837,"b":0.35,"r":0,"g":0.77},{"p":10,"d":854,"b":0.28,"r":0,"g":0.74}
]},
"facet": {
  "field": "p", "type": "ordinal",
  "header": {
    "title": null,
    "labelExpr": "['Spikerush','Graminoid Marsh','Willow','Cattail','Open Marsh','Floating Emergent Marsh','Muhlenbergia Graminoid Wet Prairie','Mixed Graminoid Wet Prairie','Sawgrass','Herbaceous Marsh','Open Water'][datum.value]",
    "labelFont": "Lato", "labelFontSize": 14, "labelFontWeight": "bold", "labelColor": "#000000", "labelPadding": 13
  }
},
"columns": 3,
"spacing": {"row": 48, "column": 38},
"resolve": {"axis": {"x": "independent", "y": "independent"}},
"spec": {
  "width": 332,
  "height": 137,
  "encoding": {
    "x": {"field": "d", "type": "ordinal", "title": null,
      "scale": {"paddingInner": 0.55, "paddingOuter": 0.3},
      "axis": {"labelAngle": -90, "labelOverlap": false, "labelExpr": "indexof([9,60,112,164,216,268,319,371,423,475,526,578,630,682,734,785,837], datum.value) >= 0 ? datum.label : ''", "tickSize": 4, "labelPadding": 2}}
  },
  "layer": [
    {"mark": {"type": "bar", "color": "#4F81BD"},
     "encoding": {"y": {"field": "b", "type": "quantitative", "title": null, "scale": {"domain": [0, 1.2]},
       "axis": {"values": [0, 0.2, 0.4, 0.6, 0.8, 1, 1.2], "tickCount": 7, "format": "~g", "labelOverlap": false, "grid": true, "tickSize": 4, "labelPadding": 3}}}},
    {"mark": {"type": "line", "strokeWidth": 2.2, "interpolate": "monotone"},
     "encoding": {"y": {"field": "r", "type": "quantitative", "title": null, "scale": {"domain": [0, 1.2]},
       "axis": {"values": [0, 0.2, 0.4, 0.6, 0.8, 1, 1.2], "tickCount": 7, "format": "~g", "labelOverlap": false, "grid": true, "tickSize": 4, "labelPadding": 3}},
       "color": {"condition": {"test": "datum.p == 4 || datum.p == 5 || datum.p == 8", "value": "#C00000"}, "value": "#C0504D"}}},
    {"mark": {"type": "line", "strokeWidth": 2.2, "strokeDash": [6, 3], "color": "#9BBB59", "interpolate": "monotone"},
     "encoding": {"y": {"field": "g", "type": "quantitative", "title": null, "scale": {"domain": [0, 1.2]},
       "axis": {"values": [0, 0.2, 0.4, 0.6, 0.8, 1, 1.2], "tickCount": 7, "format": "~g", "labelOverlap": false, "grid": true, "tickSize": 4, "labelPadding": 3}}}}
  ]
},
"config": {
  "view": {"stroke": null},
  "font": "Lato",
  "axis": {"labelFont": "Lato", "labelFontSize": 11, "labelColor": "#222222", "domainColor": "#888888", "tickColor": "#888888", "gridColor": "#9a9a9a", "gridWidth": 1}
}
}
